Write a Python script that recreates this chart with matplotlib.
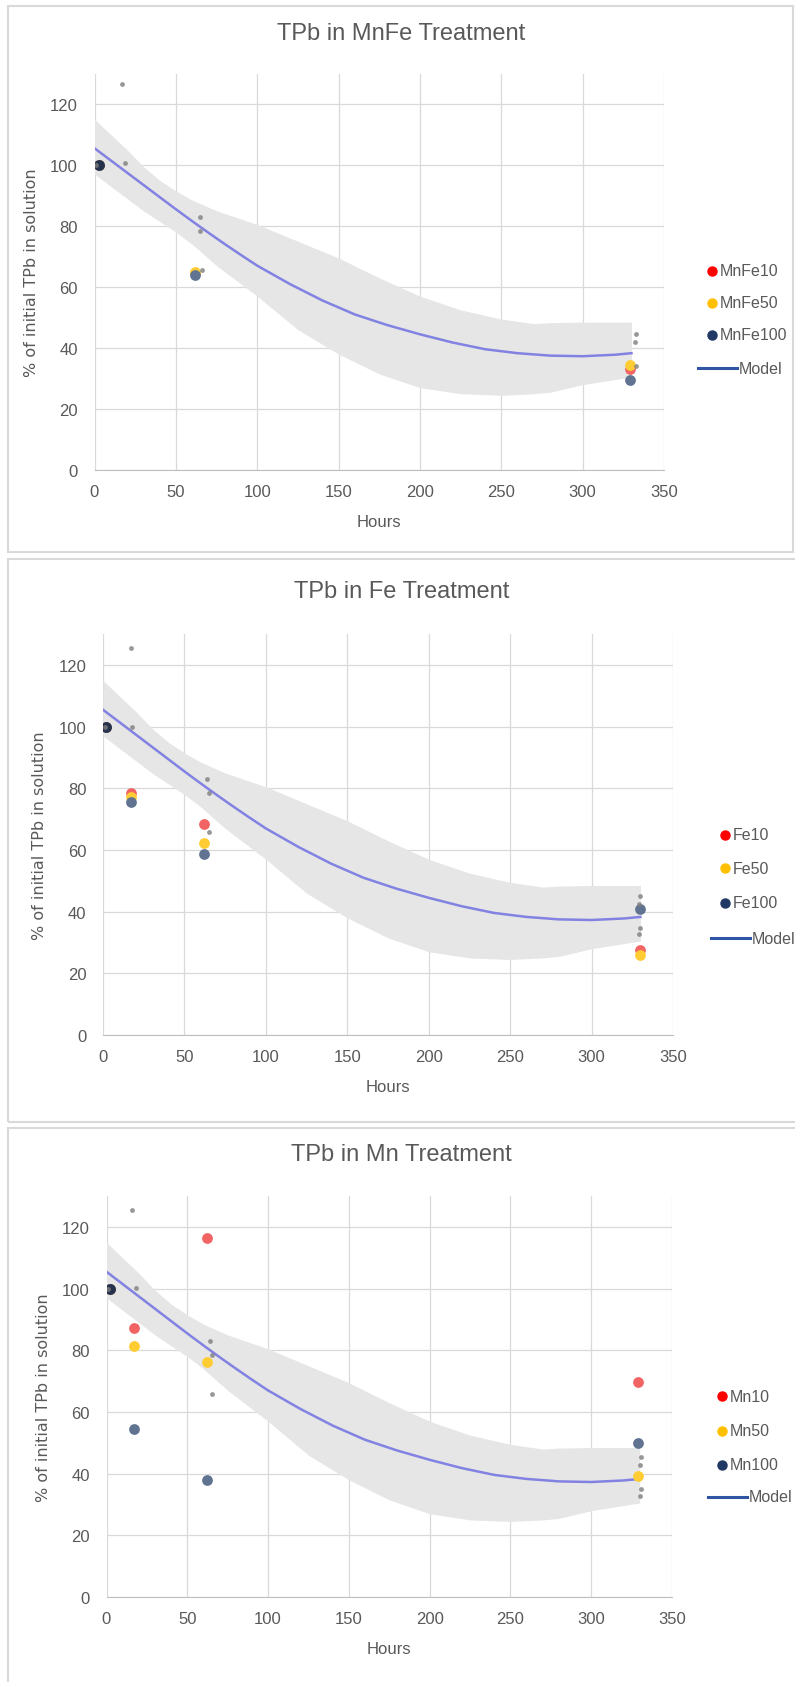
import matplotlib
matplotlib.use("Agg")
import matplotlib.pyplot as plt
from matplotlib.lines import Line2D
from matplotlib.patches import Rectangle

# --- Data ---
model_hours = [0, 10, 20, 30, 40, 50, 60, 70, 80, 90, 100, 120, 140, 160, 180, 200,
               220, 240, 260, 280, 300, 320, 330]
model_pct = [105.5, 101.5, 97.5, 93.5, 89.5, 85.5, 81.6, 77.8, 74.1, 70.5, 67, 61, 55.6,
             51, 47.5, 44.5, 41.8, 39.6, 38.3, 37.5, 37.3, 37.8, 38.3]

band_hours = [0, 10, 20, 30, 40, 50, 60, 75, 100, 125, 150, 175, 200, 225, 250, 270,
              280, 300, 330]
band_upper = [115, 110, 105, 99.5, 95, 91.5, 88.5, 85, 80.5, 75, 69.5, 63, 57, 52.5,
              49.5, 48, 48.3, 48.5, 48.5]
band_lower = [97, 93, 89, 85, 81.5, 78, 74, 67, 57, 46, 38, 31.5, 27, 25, 24.5, 25,
              25.5, 28, 30.5]

# small grey points (other replicate data) per panel
grey_mnfe_x = [1, 17, 19, 65, 65, 66, 333, 332, 333]
grey_mnfe_y = [100, 126.5, 100.5, 83, 78.5, 65.5, 44.6, 42, 34]
grey_fe_x = [1, 17, 18, 64, 65, 65, 330, 329, 330, 329]
grey_fe_y = [100, 125.4, 100, 83, 78.4, 65.7, 45.2, 42.5, 34.7, 32.7]
grey_mn_x = [1, 16, 18, 64, 65, 65, 331, 330, 331, 330]
grey_mn_y = [100, 125.5, 100.1, 83, 78.6, 65.9, 45.3, 42.7, 34.9, 32.9]

# treatment series: hours and % of initial TPb
mnfe_hours = [3, 62, 329]
mnfe10 = [100, 64.5, 33]
mnfe50 = [100, 65, 34.5]
mnfe100 = [100, 64, 29.6]

fe_hours = [2, 17, 62, 330]
fe10 = [100, 78.5, 68.3, 27.7]
fe50 = [100, 77.3, 62.4, 26.1]
fe100 = [100, 75.5, 58.7, 40.8]

mn_hours = [2, 17, 62, 329]
mn10 = [100, 87.2, 116.5, 69.6]
mn50 = [100, 81.4, 76.1, 39.2]
mn100 = [100, 54.5, 38, 49.8]

titles = ["TPb in MnFe Treatment", "TPb in Fe Treatment", "TPb in Mn Treatment"]
legend_sets = [["MnFe10", "MnFe50", "MnFe100"], ["Fe10", "Fe50", "Fe100"], ["Mn10", "Mn50", "Mn100"]]

RED = "#ff0000"
YELLOW = "#ffc000"
NAVY = "#203864"
# how the points look on the chart (faded versions)
RED_PT = "#f26464"
YELLOW_PT = "#ffcc33"
NAVY_PT = "#607391"
TXT = "#595959"

W, H = 795, 1683
fig = plt.figure(figsize=(W / 100, H / 100), dpi=100)
fig.patch.set_facecolor("white")
plt.rcParams['font.family'] = ['Liberation Sans', 'DejaVu Sans']


def fx(x):
    return x / W


def fy(y):
    return 1 - y / H


# pixel layout of each panel
panels = [
    dict(x0=94.5, x1=664, y0=471, ppu=3.05, ty=34, leg=[272, 304, 336, 369], lx=712, box=(7.5, 7, 793, 553)),
    dict(x0=103, x1=673, y0=1036, ppu=3.083, ty=592, leg=[836, 869, 904, 939], lx=725, box=(7.5, 560, 800, 1123)),
    dict(x0=106.5, x1=672, y0=1598, ppu=3.083, ty=1155, leg=[1397, 1432, 1466, 1498], lx=722, box=(7.5, 1129, 800, 1700)),
]

series = [
    (mnfe_hours, [mnfe10, mnfe50, mnfe100], grey_mnfe_x, grey_mnfe_y),
    (fe_hours, [fe10, fe50, fe100], grey_fe_x, grey_fe_y),
    (mn_hours, [mn10, mn50, mn100], grey_mn_x, grey_mn_y),
]

for i, p in enumerate(panels):
    bx0, by0, bx1, by1 = p["box"]
    fig.add_artist(Rectangle((fx(bx0), fy(by1)), fx(bx1 - bx0), (by1 - by0) / H,
                             transform=fig.transFigure, fill=False, edgecolor="#d9d9d9", lw=1.5))

    top = p["y0"] - 130 * p["ppu"]
    ax = fig.add_axes([fx(p["x0"]), fy(p["y0"]), (p["x1"] - p["x0"]) / W, (p["y0"] - top) / H])
    ax.set_xlim(0, 350)
    ax.set_ylim(0, 130)
    ax.set_xticks(range(0, 351, 50))
    ax.set_yticks(range(0, 121, 20))
    ax.grid(True, color="#d9d9d9", lw=0.9)
    ax.set_axisbelow(True)
    for s in ["top", "right", "left"]:
        ax.spines[s].set_visible(False)
    ax.spines["bottom"].set_color("#bfbfbf")
    ax.tick_params(length=0, labelsize=12, colors=TXT, pad=10)
    ax.tick_params(axis="y", pad=12)
    ax.set_xlabel("Hours", fontsize=12, color=TXT, labelpad=11)
    ax.set_ylabel("% of initial TPb in solution", fontsize=11.5, color=TXT, labelpad=8,
                  family=['DejaVu Sans'])

    ax.fill_between(band_hours, band_lower, band_upper, color="#e6e6e6", lw=0, zorder=1)
    ax.plot(model_hours, model_pct, color="#8282e2", lw=1.8, zorder=2)

    hrs, ys, gx, gy = series[i]
    for vals, c in zip(ys, [RED_PT, YELLOW_PT, NAVY_PT]):
        ax.scatter(hrs, vals, s=60, color=c, lw=0, zorder=3)
    # the starting point sits under all series and shows dark
    ax.scatter(hrs[0], ys[2][0], s=60, color="#27324d", lw=0, zorder=3)
    ax.scatter(gx, gy, s=12, color="#7f7f7f", alpha=0.8, lw=0, zorder=4)

    fig.text(0.505, fy(p["ty"]), titles[i], ha="center", va="center", fontsize=17, color=TXT)

    # legend drawn by hand
    for lab, c, ly in zip(legend_sets[i], [RED, YELLOW, NAVY], p["leg"][:3]):
        fig.add_artist(Line2D([fx(p["lx"])], [fy(ly)], transform=fig.transFigure,
                              marker="o", markersize=6.5, color=c, lw=0))
        fig.text(fx(p["lx"] + 8), fy(ly), lab, ha="left", va="center", fontsize=11.5, color=TXT)
    ly = p["leg"][3]
    fig.add_artist(Line2D([fx(p["lx"] - 14), fx(p["lx"] + 25)], [fy(ly), fy(ly)],
                          transform=fig.transFigure, color="#2f55a4", lw=2.2))
    fig.text(fx(p["lx"] + 27), fy(ly), "Model", ha="left", va="center", fontsize=11.5, color=TXT)

fig.savefig("out.png", dpi=100)
